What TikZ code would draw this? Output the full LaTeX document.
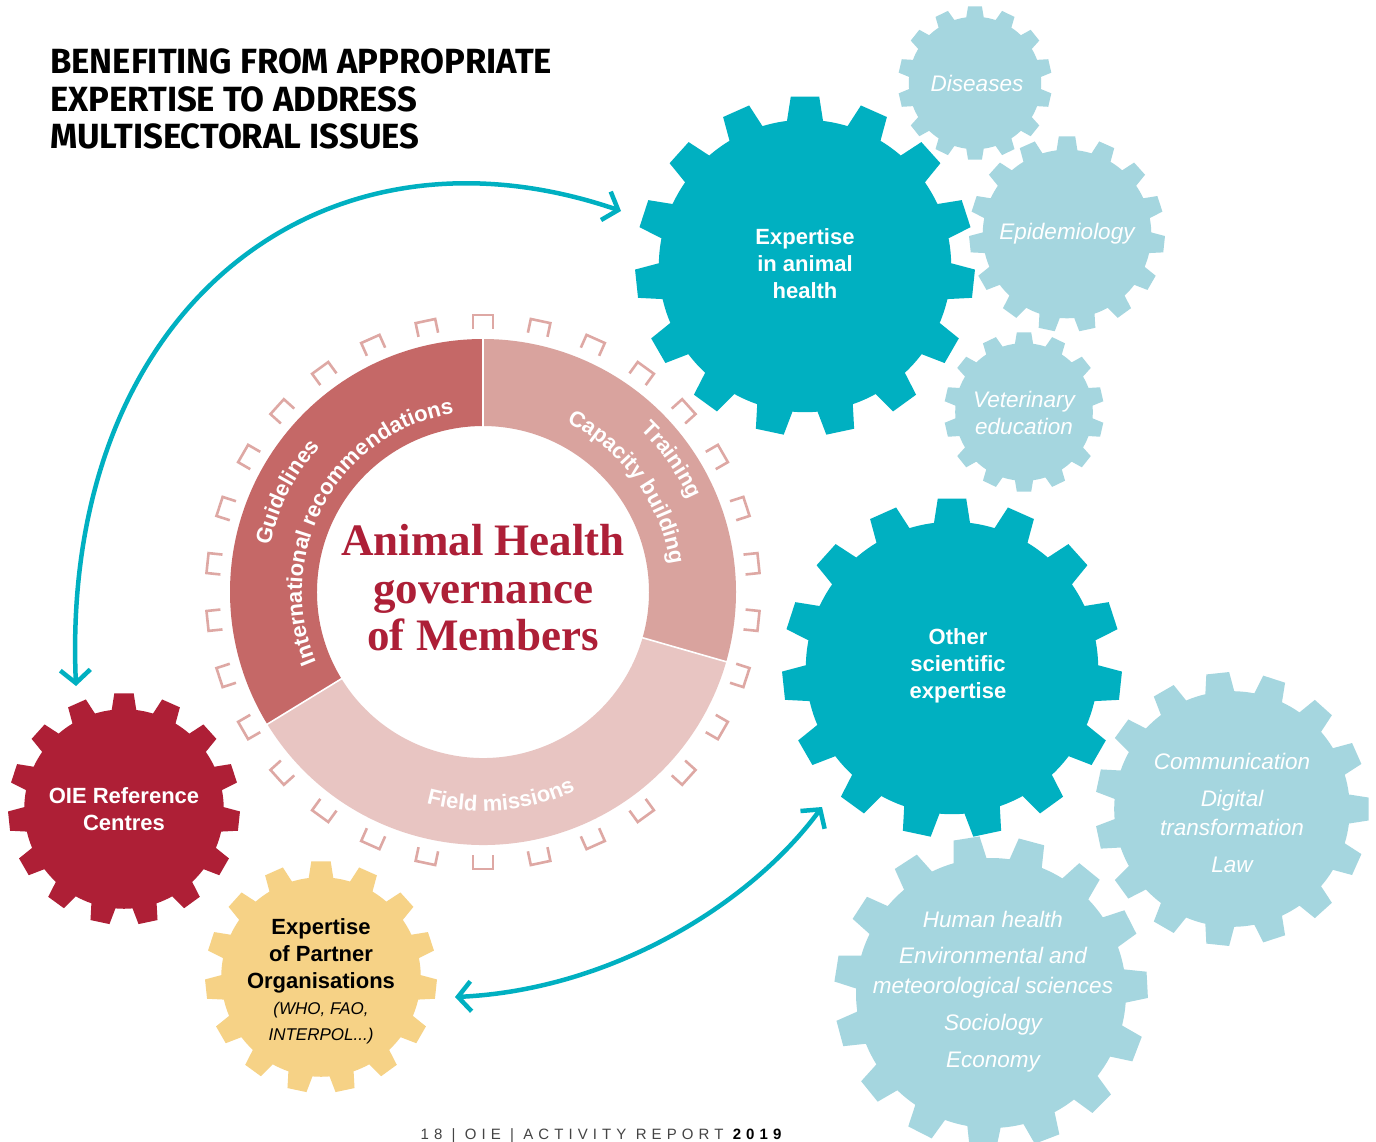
\documentclass[tikz,border=0pt]{standalone}
\usepackage{fontspec}
\usepackage{graphicx}
\setmainfont{Liberation Sans}
\newfontfamily\titlefont{Fira Sans}
\newfontfamily\serifbold{Liberation Serif}
\usetikzlibrary{arrows.meta,decorations.text}

\definecolor{gTeal}{HTML}{00B0C1}
\definecolor{gLight}{HTML}{A5D6DF}
\definecolor{gRed}{HTML}{AE1F36}
\definecolor{gYellow}{HTML}{F6D286}
\definecolor{rDark}{HTML}{C56867}
\definecolor{rMid}{HTML}{D9A39E}
\definecolor{rLight}{HTML}{E8C5C2}
\definecolor{tickC}{HTML}{DEA8A4}
\definecolor{ahRed}{HTML}{AD1F37}
\definecolor{footGray}{HTML}{444444}

% gear: #1 centre, #2 teeth, #3 outer radius, #4 angle of first tooth, #5 colour
\newcommand\drawgear[5]{%
  \pgfmathsetmacro\gPer{360/#2}%
  \pgfmathsetmacro\gBh{0.295*\gPer}%
  \pgfmathsetmacro\gTh{0.2*\gPer}%
  \pgfmathsetmacro\gRr{#3*0.86}%
  \pgfmathtruncatemacro\gN{#2-1}%
  \fill[#5,shift={#1}] ({#4-\gBh}:\gRr)
    \foreach \k in {0,...,\gN}{
      -- ({#4+\k*\gPer-\gTh}:#3) -- ({#4+\k*\gPer+\gTh}:#3)
      -- ({#4+\k*\gPer+\gBh}:\gRr)
      arc[start angle={#4+\k*\gPer+\gBh}, end angle={#4+(\k+1)*\gPer-\gBh}, radius=\gRr]
    } -- cycle;
}

\tikzset{
  boldlabel/.style={align=center, text=white, inner sep=0pt, font=\fontsize{22}{27}\selectfont\bfseries},
  itlabel/.style={align=center, text=white, inner sep=0pt, font=\fontsize{22.5}{29}\selectfont\itshape},
  titleline/.style={anchor=base west, inner sep=0pt, font=\titlefont\bfseries\fontsize{35}{35}\selectfont},
  conn/.style={draw=gTeal, line width=4.5pt,
    {Straight Barb[length=13pt,width=30pt]}-{Straight Barb[length=13pt,width=30pt]}},
  tickmark/.style={draw=tickC, line width=2.6pt},
  ringlabel/.style={decorate, decoration={text along path, text align=center, text={#1}}},
}

\begin{document}
\begin{tikzpicture}[x=1pt,y=1pt]
\useasboundingbox (0,0) rectangle (1376,-1141);
\fill[white] (0,0) rectangle (1376,-1141);

% ---- title
\node[titleline] (title1) at (50,-73) {\scalebox{0.99}[1]{BENEFITING FROM APPROPRIATE}};
\node[titleline] (title2) at (50,-111) {\scalebox{0.99}[1]{EXPERTISE TO ADDRESS}};
\node[titleline] (title3) at (50,-148) {\scalebox{0.99}[1]{MULTISECTORAL ISSUES}};

% ---- light gears
\drawgear{(975,-83)}{14}{77}{90}{gLight}
\drawgear{(1067,-234)}{15}{98}{90}{gLight}
\drawgear{(1024,-412)}{14}{80}{90}{gLight}
\drawgear{(1232,-809)}{15}{137}{0}{gLight}
\drawgear{(991,-993)}{15}{157}{99}{gLight}

% ---- main gears
\drawgear{(805,-266)}{15}{170}{90}{gTeal}
\drawgear{(952,-668)}{15}{170}{90}{gTeal}
\drawgear{(124,-809)}{15}{116}{90}{gRed}
\drawgear{(321,-977)}{15}{116}{90}{gYellow}

% ---- ring
\begin{scope}[shift={(483,-592)}]
  \fill[rDark] (90:253) arc[start angle=90, end angle=211.5, radius=253]
     -- (211.5:166) arc[start angle=211.5, end angle=90, radius=166] -- cycle;
  \fill[rLight] (211.5:253) arc[start angle=211.5, end angle=344, radius=253]
     -- (344:166) arc[start angle=344, end angle=211.5, radius=166] -- cycle;
  \fill[rMid] (-16:253) arc[start angle=-16, end angle=90, radius=253]
     -- (90:166) arc[start angle=90, end angle=-16, radius=166] -- cycle;
  \draw[white, line width=1.6pt] (90:164) -- (90:255) (211.5:164) -- (211.5:255) (-16:164) -- (-16:255);
  \foreach \k in {0,...,29}{
    \draw[tickmark, rotate=12*\k] (-10,263) -- (-10,277) -- (10,277) -- (10,263);
  }
  \path[ringlabel={|\fontsize{22}{22}\selectfont\bfseries\color{white}|International recommendations}]
     (212:181) arc[start angle=212, end angle=90, radius=181];
  \path[ringlabel={|\fontsize{22}{22}\selectfont\bfseries\color{white}|Guidelines}]
     (190:218) arc[start angle=190, end angle=116, radius=218];
  \path[ringlabel={|\fontsize{22}{22}\selectfont\bfseries\color{white}|Training}]
     (70:226) arc[start angle=70, end angle=0, radius=226];
  \path[ringlabel={|\fontsize{22}{22}\selectfont\bfseries\color{white}|Capacity building}]
     (88:189) arc[start angle=88, end angle=-16, radius=189];
  \path[ringlabel={|\fontsize{22}{22}\selectfont\bfseries\color{white}|Field missions}]
     (235:219) arc[start angle=235, end angle=315, radius=219];
\end{scope}

\node[align=center, text=ahRed, inner sep=0pt, font=\serifbold\bfseries\fontsize{45}{47.5}\selectfont]
  (ahg) at (483,-588) {Animal Health\\governance\\of Members};

% ---- gear labels
\node[boldlabel] (ah) at (805,-264) {Expertise\\in animal\\health};
\node[boldlabel] (ose) at (958,-666) {Other\\scientific\\expertise};
\node[boldlabel] (oie) at (124,-809) {OIE Reference\\Centres};
\node[boldlabel, text=black] (par) at (321,-981) {Expertise\\of Partner\\Organisations\\[-1pt]
  {\fontsize{17}{25}\selectfont\mdseries\itshape (WHO, FAO,}\\[-1pt]
  {\fontsize{17}{25}\selectfont\mdseries\itshape INTERPOL...)}};
\node[itlabel] (dis) at (977,-83) {Diseases};
\node[itlabel] (epi) at (1067,-234) {Epidemiology};
\node[itlabel, font=\fontsize{22.5}{27}\selectfont\itshape] (vet) at (1024,-413) {Veterinary\\education};
\node[itlabel] (com) at (1232,-813) {Communication\\[8pt]Digital\\transformation\\[8pt]Law};
\node[itlabel, font=\fontsize{22.5}{30}\selectfont\itshape] (hum) at (993,-992)
  {Human health\\[6pt]Environmental and\\meteorological sciences\\[7pt]Sociology\\[7pt]Economy};

% ---- connectors
\coordinate (oieIn) at (76,-686);
\coordinate (ahIn) at (621,-211);
\coordinate (parIn) at (455,-997);
\coordinate (oseIn) at (822,-807);
\draw[conn] (oieIn) .. controls (60,-310) and (320,-108) .. (ahIn);
\draw[conn] (parIn) .. controls (610,-990) and (750,-905) .. (oseIn);

% ---- footer
\node[anchor=base, inner sep=0pt, text=footGray, font=\fontsize{15}{15}\selectfont\addfontfeature{LetterSpace=34}]
  (foot) at (601,-1139) {18 | OIE | ACTIVITY REPORT \textcolor{black}{\bfseries 2019}};
\end{tikzpicture}
\end{document}
